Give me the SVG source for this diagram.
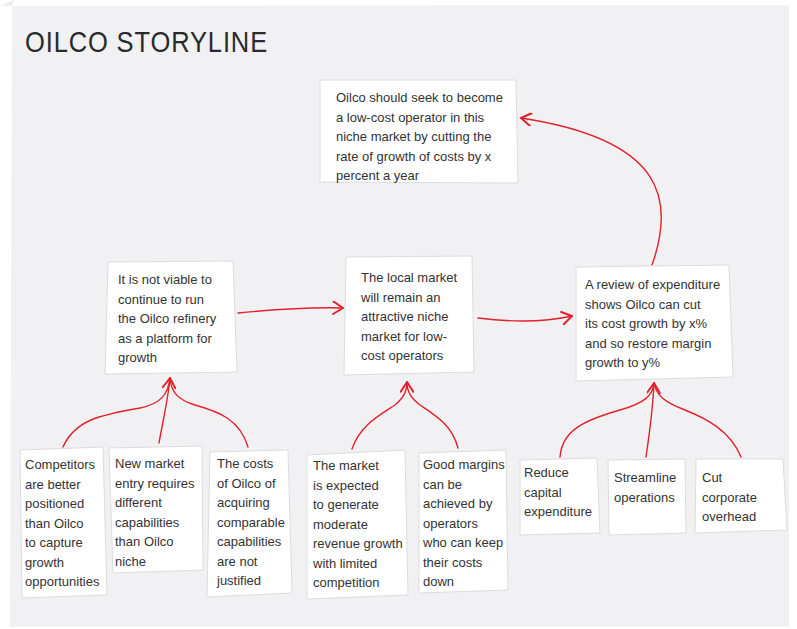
<svg xmlns="http://www.w3.org/2000/svg" width="797" height="629" viewBox="0 0 797 629">
<defs>
<style>
.bg{fill:#ffffff}
.panel{fill:#f1f1f3}
.box{fill:#ffffff;stroke:#dcdcdc;stroke-width:1}
.t{font-family:"Liberation Sans","DejaVu Sans",sans-serif;font-size:13px;fill:#333333}
.title{font-family:"Liberation Sans","DejaVu Sans",sans-serif;font-size:29px;fill:#2a2a2a;letter-spacing:1px}
.c{fill:none;stroke:#e3202b;stroke-width:1.4;stroke-linecap:round}
</style>
<marker id="ah" markerUnits="userSpaceOnUse" markerWidth="14" markerHeight="14" refX="8" refY="5" orient="auto" viewBox="0 0 10 10">
<path d="M1,0.5 L8,5 L1,9.5" fill="none" stroke="#e3202b" stroke-width="1.4" stroke-linecap="round" stroke-linejoin="round"/>
</marker>
</defs>
<rect class="bg" x="0" y="0" width="797" height="629"/>
<polygon points="0,6 14,0 12,6" fill="#ececee"/>
<polygon class="panel" points="12,6 789,5 789,627 10,627"/>
<text class="title" x="25" y="52" textLength="243" lengthAdjust="spacingAndGlyphs">OILCO STORYLINE</text>

<g id="connectors">
<path class="c" d="M238,313 C280,309 310,307 343,308" marker-end="url(#ah)"/>
<path class="c" d="M478,318 C510,322 545,322 572,316" marker-end="url(#ah)"/>
<path class="c" d="M652,265 C675,200 665,140 521,118" marker-end="url(#ah)"/>
<path class="c" d="M63,447 C75,420 100,415 140,408 C160,404 168,395 170,378"/>
<path class="c" d="M248,447 C240,420 220,412 195,405 C178,400 171,392 170,378"/>
<path class="c" d="M159,443 C163,420 168,400 170,378" marker-end="url(#ah)"/>
<path class="c" d="M352,449 C360,425 380,415 395,405 C403,398 407,392 407,382" marker-end="url(#ah)"/>
<path class="c" d="M458,448 C452,425 435,415 420,405 C411,398 407,392 407,382"/>
<path class="c" d="M560,457 C562,430 585,420 620,410 C645,403 653,395 654,383"/>
<path class="c" d="M741,457 C730,430 705,418 685,410 C664,402 656,395 654,383"/>
<path class="c" d="M646,457 C650,430 653,405 654,383" marker-end="url(#ah)"/>
</g>

<g id="n-top">
<polygon class="box" points="320,80 516,80 518,183 320,182"/>
<text class="t" x="336" y="102">Oilco should seek to become</text>
<text class="t" x="336" y="121.5">a low-cost operator in this</text>
<text class="t" x="336" y="141">niche market by cutting the</text>
<text class="t" x="336" y="160.5">rate of growth of costs by x</text>
<text class="t" x="336" y="180">percent a year</text>
</g>

<g id="n-left">
<polygon class="box" points="108,262 233,261 237,372 105,374"/>
<text class="t" x="118" y="284">It is not viable to</text>
<text class="t" x="118" y="303.5">continue to run</text>
<text class="t" x="118" y="323">the Oilco refinery</text>
<text class="t" x="118" y="342.5">as a platform for</text>
<text class="t" x="118" y="362">growth</text>
</g>

<g id="n-mid">
<polygon class="box" points="346,257 472,256 474,372 344,375"/>
<text class="t" x="361" y="282">The local market</text>
<text class="t" x="361" y="301.5">will remain an</text>
<text class="t" x="361" y="321">attractive niche</text>
<text class="t" x="361" y="340.5">market for low-</text>
<text class="t" x="361" y="360">cost operators</text>
</g>

<g id="n-right">
<polygon class="box" points="576,267 729,265 733,377 576,381"/>
<text class="t" x="585" y="289">A review of expenditure</text>
<text class="t" x="585" y="308.5">shows Oilco can cut</text>
<text class="t" x="585" y="328">its cost growth by x%</text>
<text class="t" x="585" y="347.5">and so restore margin</text>
<text class="t" x="585" y="367">growth to y%</text>
</g>

<g id="n-b1">
<polygon class="box" points="20,450 103,447 107,595 22,598"/>
<text class="t" x="25" y="469">Competitors</text>
<text class="t" x="25" y="488.5">are better</text>
<text class="t" x="25" y="508">positioned</text>
<text class="t" x="25" y="527.5">than Oilco</text>
<text class="t" x="25" y="547">to capture</text>
<text class="t" x="25" y="566.5">growth</text>
<text class="t" x="25" y="586">opportunities</text>
</g>

<g id="n-b2">
<polygon class="box" points="109,448 202,446 203,570 113,573"/>
<text class="t" x="115" y="468">New market</text>
<text class="t" x="115" y="487.5">entry requires</text>
<text class="t" x="115" y="507">different</text>
<text class="t" x="115" y="526.5">capabilities</text>
<text class="t" x="115" y="546">than Oilco</text>
<text class="t" x="115" y="565.5">niche</text>
</g>

<g id="n-b3">
<polygon class="box" points="210,452 288,450 292,593 207,597"/>
<text class="t" x="217" y="468">The costs</text>
<text class="t" x="217" y="487.5">of Oilco of</text>
<text class="t" x="217" y="507">acquiring</text>
<text class="t" x="217" y="526.5">comparable</text>
<text class="t" x="217" y="546">capabilities</text>
<text class="t" x="217" y="565.5">are not</text>
<text class="t" x="217" y="585">justified</text>
</g>

<g id="n-b4">
<polygon class="box" points="307,455 405,450 408,595 307,599"/>
<text class="t" x="313" y="470">The market</text>
<text class="t" x="313" y="489.5">is expected</text>
<text class="t" x="313" y="509">to generate</text>
<text class="t" x="313" y="528.5">moderate</text>
<text class="t" x="313" y="548">revenue growth</text>
<text class="t" x="313" y="567.5">with limited</text>
<text class="t" x="313" y="587">competition</text>
</g>

<g id="n-b5">
<polygon class="box" points="419,453 506,450 508,590 419,593"/>
<text class="t" x="423" y="469">Good margins</text>
<text class="t" x="423" y="488.5">can be</text>
<text class="t" x="423" y="508">achieved by</text>
<text class="t" x="423" y="527.5">operators</text>
<text class="t" x="423" y="547">who can keep</text>
<text class="t" x="423" y="566.5">their costs</text>
<text class="t" x="423" y="586">down</text>
</g>

<g id="n-b6">
<polygon class="box" points="520,460 597,458 600,533 520,535"/>
<text class="t" x="524" y="477">Reduce</text>
<text class="t" x="524" y="496.5">capital</text>
<text class="t" x="524" y="516">expenditure</text>
</g>

<g id="n-b7">
<polygon class="box" points="608,460 685,459 686,533 609,535"/>
<text class="t" x="614" y="482">Streamline</text>
<text class="t" x="614" y="501.5">operations</text>
</g>

<g id="n-b8">
<polygon class="box" points="696,459 783,459 787,530 695,533"/>
<text class="t" x="702" y="482">Cut</text>
<text class="t" x="702" y="501.5">corporate</text>
<text class="t" x="702" y="521">overhead</text>
</g>
</svg>
